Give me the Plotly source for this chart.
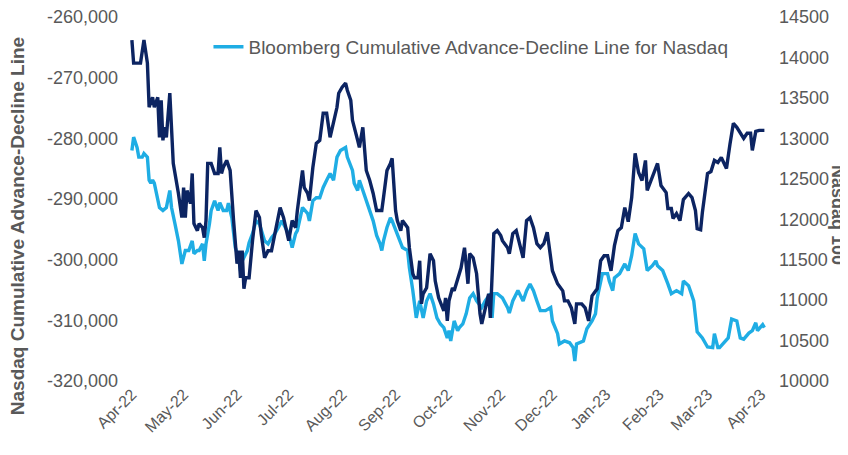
import plotly.graph_objects as go

# Nasdaq 100 (right axis)
ndx_dates = [
    "2022-04-01","2022-04-02","2022-04-06","2022-04-08","2022-04-10","2022-04-11","2022-04-13","2022-04-14",
    "2022-04-16","2022-04-17","2022-04-18","2022-04-19","2022-04-20","2022-04-21","2022-04-23","2022-04-24",
    "2022-04-25","2022-04-28","2022-04-30","2022-05-01","2022-05-02","2022-05-03","2022-05-05","2022-05-06",
    "2022-05-07","2022-05-09","2022-05-10","2022-05-12","2022-05-13","2022-05-14","2022-05-15","2022-05-17",
    "2022-05-19","2022-05-21","2022-05-22","2022-05-23","2022-05-24","2022-05-26","2022-05-28","2022-05-30",
    "2022-06-01","2022-06-02","2022-06-03","2022-06-04","2022-06-05","2022-06-06","2022-06-08","2022-06-10",
    "2022-06-12","2022-06-14","2022-06-15","2022-06-17","2022-06-19","2022-06-21","2022-06-23","2022-06-26",
    "2022-06-28","2022-06-30","2022-07-01","2022-07-03","2022-07-05","2022-07-06","2022-07-09","2022-07-10",
    "2022-07-12","2022-07-13","2022-07-15","2022-07-17","2022-07-19","2022-07-21","2022-07-23","2022-07-25",
    "2022-07-27","2022-07-29","2022-07-30","2022-08-01","2022-08-03","2022-08-04","2022-08-06","2022-08-07",
    "2022-08-10","2022-08-11","2022-08-13","2022-08-14","2022-08-15","2022-08-17","2022-08-19","2022-08-21",
    "2022-08-23","2022-08-24","2022-08-25","2022-08-27","2022-08-29","2022-08-30","2022-09-01","2022-09-02",
    "2022-09-04","2022-09-05","2022-09-08","2022-09-09","2022-09-11","2022-09-12","2022-09-14","2022-09-15",
    "2022-09-16","2022-09-17","2022-09-19","2022-09-21","2022-09-23","2022-09-24","2022-09-26","2022-09-28",
    "2022-09-29","2022-09-30","2022-10-01","2022-10-02","2022-10-04","2022-10-05","2022-10-07","2022-10-09",
    "2022-10-11","2022-10-13","2022-10-14","2022-10-16","2022-10-18","2022-10-20","2022-10-21","2022-10-23",
    "2022-10-25","2022-10-26","2022-10-28","2022-10-30","2022-11-01","2022-11-02","2022-11-05","2022-11-06",
    "2022-11-08","2022-11-10","2022-11-12","2022-11-14","2022-11-16","2022-11-18","2022-11-20","2022-11-22",
    "2022-11-24","2022-11-26","2022-11-28","2022-12-01","2022-12-04","2022-12-07","2022-12-08","2022-12-10",
    "2022-12-12","2022-12-14","2022-12-15","2022-12-18","2022-12-20","2022-12-22","2022-12-24","2022-12-27",
    "2022-12-29","2022-12-31","2023-01-02","2023-01-04","2023-01-06","2023-01-08","2023-01-10","2023-01-12",
    "2023-01-14","2023-01-16","2023-01-18","2023-01-20","2023-01-22","2023-01-24","2023-01-25","2023-01-28",
    "2023-01-31","2023-02-02","2023-02-04","2023-02-05","2023-02-06","2023-02-08","2023-02-09","2023-02-11",
    "2023-02-13","2023-02-15","2023-02-18","2023-02-20","2023-02-22","2023-02-23","2023-02-25","2023-02-26",
    "2023-03-01","2023-03-03","2023-03-05","2023-03-07","2023-03-09","2023-03-12","2023-03-14","2023-03-16",
    "2023-03-18","2023-03-20","2023-03-22","2023-03-24","2023-03-26","2023-03-27","2023-03-29","2023-03-31",
    "2023-04-03",
]
ndx_values = [
    14215,13930,13930,14215,13930,13384,13508,13384,
    13508,13012,13471,12975,13136,13012,13558,13099,
    12690,12318,12020,12392,12020,12355,12194,12566,
    11946,11859,11946,11896,11772,11983,12690,12690,
    12566,12566,12888,12566,12640,12727,12603,11983,
    11450,11611,11276,11611,11140,11276,11276,11735,
    12107,12020,11822,11524,11611,11611,11822,12144,
    12020,11822,11735,11983,11896,12107,12603,12392,
    12318,12231,12640,12938,12975,13310,13310,13012,
    13223,13384,13558,13632,13682,13595,13471,13223,
    12975,12888,13136,12888,12603,12479,12318,12107,
    12107,12107,12268,12603,12690,12752,12107,11983,
    11859,11983,11896,11648,11326,11276,11276,11487,
    10954,11078,11152,11574,11487,11239,11028,10904,
    10867,11028,10743,10991,11152,11115,11276,11400,
    11648,11202,11574,11524,11326,10830,10706,10904,
    11078,10780,11822,11859,11797,11735,11648,11574,
    11822,11859,11698,11524,11983,12020,11896,11698,
    11648,11698,11840,11363,11202,11115,10991,10991,
    10904,10706,10954,10954,10904,10743,11053,11140,
    11487,11549,11549,11363,11673,11859,11896,12144,
    11970,12268,12814,12578,12479,12727,12355,12516,
    12690,12417,12355,12330,12132,12132,12008,12070,
    11983,12243,12318,12268,12107,11884,11871,12082,
    12566,12590,12727,12702,12764,12628,12925,13186,
    13136,13062,13000,13062,13062,12851,13086,13099,
    13099,
]

# Bloomberg Cumulative Advance-Decline Line for Nasdaq (left axis)
ad_dates = [
    "2022-04-01","2022-04-02","2022-04-04","2022-04-05","2022-04-07","2022-04-08","2022-04-10","2022-04-11",
    "2022-04-12","2022-04-13","2022-04-14","2022-04-16","2022-04-17","2022-04-19","2022-04-21","2022-04-23",
    "2022-04-24","2022-04-26","2022-04-28","2022-04-30","2022-05-02","2022-05-04","2022-05-06","2022-05-07",
    "2022-05-09","2022-05-10","2022-05-12","2022-05-13","2022-05-14","2022-05-16","2022-05-17","2022-05-19",
    "2022-05-21","2022-05-22","2022-05-24","2022-05-26","2022-05-27","2022-05-29","2022-05-31","2022-06-02",
    "2022-06-03","2022-06-04","2022-06-07","2022-06-08","2022-06-10","2022-06-12","2022-06-14","2022-06-17",
    "2022-06-19","2022-06-21","2022-06-23","2022-06-25","2022-06-27","2022-06-29","2022-07-01","2022-07-03",
    "2022-07-05","2022-07-06","2022-07-08","2022-07-09","2022-07-12","2022-07-13","2022-07-15","2022-07-17",
    "2022-07-19","2022-07-21","2022-07-23","2022-07-25","2022-07-27","2022-07-28","2022-07-29","2022-07-31",
    "2022-08-03","2022-08-04","2022-08-07","2022-08-08","2022-08-10","2022-08-11","2022-08-13","2022-08-15",
    "2022-08-17","2022-08-19","2022-08-21","2022-08-23","2022-08-24","2022-08-25","2022-08-27","2022-08-29",
    "2022-08-30","2022-09-02","2022-09-04","2022-09-05","2022-09-08","2022-09-09","2022-09-11","2022-09-12",
    "2022-09-13","2022-09-15","2022-09-17","2022-09-19","2022-09-21","2022-09-23","2022-09-25","2022-09-27",
    "2022-09-29","2022-10-01","2022-10-02","2022-10-03","2022-10-05","2022-10-07","2022-10-08","2022-10-10",
    "2022-10-12","2022-10-14","2022-10-16","2022-10-18","2022-10-21","2022-10-23","2022-10-26","2022-10-27",
    "2022-10-28","2022-10-30","2022-11-02","2022-11-05","2022-11-06","2022-11-08","2022-11-11","2022-11-14",
    "2022-11-16","2022-11-18","2022-11-20","2022-11-22","2022-11-24","2022-11-27","2022-11-30","2022-12-01",
    "2022-12-04","2022-12-05","2022-12-08","2022-12-11","2022-12-13","2022-12-14","2022-12-15","2022-12-19",
    "2022-12-21","2022-12-24","2022-12-26","2022-12-27","2022-12-29","2022-12-30","2023-01-02","2023-01-03",
    "2023-01-05","2023-01-06","2023-01-09","2023-01-12","2023-01-14","2023-01-16","2023-01-18","2023-01-20",
    "2023-01-23","2023-01-25","2023-01-28","2023-01-30","2023-01-31","2023-02-03","2023-02-06","2023-02-08",
    "2023-02-11","2023-02-14","2023-02-15","2023-02-18","2023-02-19","2023-02-21","2023-02-23","2023-02-25",
    "2023-02-26","2023-03-01","2023-03-04","2023-03-05","2023-03-07","2023-03-08","2023-03-10","2023-03-13",
    "2023-03-15","2023-03-18","2023-03-20","2023-03-22","2023-03-25","2023-03-27","2023-03-29","2023-03-30",
    "2023-04-02","2023-04-03",
]
ad_values = [
    -282000,-279800,-281500,-283100,-283100,-282500,-283100,-286900,
    -287400,-286900,-287400,-289800,-291400,-291900,-291400,-288600,
    -291400,-294100,-296900,-300700,-298500,-298500,-296900,-299000,
    -298500,-298500,-297400,-300200,-297400,-294100,-291900,-290300,
    -291900,-290600,-291900,-291900,-290700,-293100,-298000,-299700,
    -301800,-300200,-298500,-297200,-295700,-293600,-294100,-296900,
    -297400,-296400,-295700,-294700,-293600,-294700,-295700,-298000,
    -295700,-295200,-292400,-291400,-292400,-293600,-290300,-289800,
    -289800,-288100,-286900,-285800,-286900,-285300,-283100,-282000,
    -281500,-283100,-285300,-287400,-288600,-286900,-288600,-290300,
    -291900,-293600,-296000,-297400,-298500,-296900,-294700,-293100,
    -293600,-295700,-297400,-298000,-298500,-301300,-305100,-307900,
    -309600,-306800,-309600,-306800,-305600,-307300,-309600,-310600,
    -311200,-312900,-311700,-313400,-310100,-311700,-311200,-310600,
    -308900,-306300,-305600,-306800,-307900,-306800,-305600,-309600,
    -305600,-305600,-306300,-307900,-308800,-306800,-305100,-306800,
    -305100,-304000,-305100,-306800,-308400,-308400,-307900,-310100,
    -312200,-313900,-313400,-313700,-314500,-316700,-313900,-313400,
    -311400,-310100,-308900,-306300,-303500,-302300,-302300,-303500,
    -305100,-303000,-302300,-300700,-301800,-299300,-295700,-297400,
    -298200,-301800,-301000,-300200,-301000,-301800,-304000,-305600,
    -305100,-305600,-303500,-304300,-305100,-306800,-311900,-312700,
    -312900,-314400,-314500,-312200,-314500,-314500,-313900,-312900,
    -309800,-310100,-312900,-313100,-312100,-311700,-310400,-311700,
    -310700,-311200,
]

left_ticks = [-320000, -310000, -300000, -290000, -280000, -270000, -260000]
left_labels = ["-320,000", "-310,000", "-300,000", "-290,000", "-280,000", "-270,000", "-260,000"]
right_ticks = [10000, 10500, 11000, 11500, 12000, 12500, 13000, 13500, 14000, 14500]

GREY = "#595959"
DARK = "#0c2462"
LIGHT = "#1fade4"
FONT = "Liberation Sans, Arial, sans-serif"

fig = go.Figure()
fig.add_trace(go.Scatter(
    x=ad_dates, y=ad_values, mode="lines", yaxis="y",
    name="Bloomberg Cumulative Advance-Decline Line for Nasdaq",
    line=dict(color=LIGHT, width=3.4), showlegend=True,
))
fig.add_trace(go.Scatter(
    x=ndx_dates, y=ndx_values, mode="lines", yaxis="y2",
    name="Nasdaq 100", line=dict(color=DARK, width=3.4), showlegend=False,
))

# The page body has an 8px default margin, so the figure is 8px smaller and margins compensate.
fig.update_layout(
    width=840, height=447,
    margin=dict(l=117, r=76, t=9, b=74),
    paper_bgcolor="white", plot_bgcolor="white",
    font=dict(family=FONT, color=GREY, size=18),
    xaxis=dict(
        type="date",
        range=["2022-03-28", "2023-04-07 10:00"],
        tick0="2022-04-01", dtick="M1", tickformat="%b-%y",
        tickangle=-45, tickfont=dict(size=16, color=GREY),
        showgrid=False, zeroline=False, showline=False, ticks="",
        automargin=False, ticklabeloverflow="allow",
    ),
    yaxis=dict(
        range=[-320000, -260000], tickvals=left_ticks, ticktext=left_labels,
        tickfont=dict(size=18, color=GREY),
        showgrid=False, zeroline=False, showline=False, ticks="",
        ticklabelstandoff=6, automargin=False, ticklabeloverflow="allow",
    ),
    yaxis2=dict(
        range=[10000, 14500], tickvals=right_ticks, tickformat="d",
        overlaying="y", side="right",
        tickfont=dict(size=18, color=GREY),
        showgrid=False, zeroline=False, showline=False, ticks="",
        ticklabelstandoff=6, automargin=False, ticklabeloverflow="allow",
    ),
    legend=dict(
        x=0.129, y=0.918, xanchor="left", yanchor="middle",
        bgcolor="rgba(0,0,0,0)", font=dict(size=19, color=GREY),
        itemwidth=30,
    ),
    annotations=[
        dict(text="<b>Nasdaq Cumulative Advance-Decline Line</b>", textangle=-90,
             xref="paper", yref="paper", x=-0.165, y=0.426,
             xanchor="center", yanchor="middle",
             showarrow=False, font=dict(size=19, color=GREY)),
        dict(text="<b>Nasdaq 100</b>", textangle=90,
             xref="paper", yref="paper", x=1.102, y=0.456,
             xanchor="center", yanchor="middle",
             showarrow=False, font=dict(size=18, color=GREY)),
    ],
)

fig.write_html("out.html")
